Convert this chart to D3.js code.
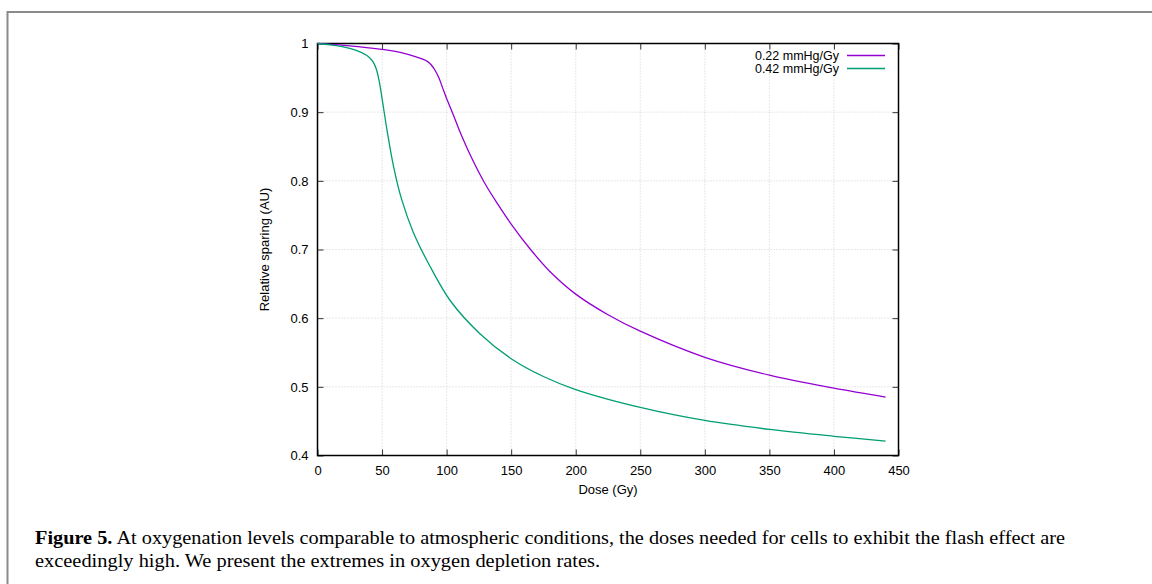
<!DOCTYPE html>
<html>
<head>
<meta charset="utf-8">
<script src="https://cdn.jsdelivr.net/npm/d3@7"></script>
<style>
  body { margin: 0; background: #fff; }
  svg { display: block; }
</style>
</head>
<body>
<div id="chart"></div>
<script>
// tick labels
var xTicks = [0, 50, 100, 150, 200, 250, 300, 350, 400, 450];
var yTicks = [0.4, 0.5, 0.6, 0.7, 0.8, 0.9, 1];

// 0.22 mmHg/Gy (purple)
var doseA = [0, 12, 25, 38, 50, 64, 77, 85, 88, 91, 94, 97, 100, 105, 110, 120, 130, 140, 150, 165, 180, 200, 225, 250, 300, 350, 400, 440];
var sparA = [1.0, 0.9985, 0.9966, 0.994, 0.9915, 0.987, 0.980, 0.974, 0.969, 0.961, 0.950, 0.935, 0.920, 0.897, 0.873, 0.831, 0.795, 0.765, 0.737, 0.700, 0.668, 0.635, 0.605, 0.581, 0.543, 0.517, 0.498, 0.485];

// 0.42 mmHg/Gy (green)
var doseB = [0, 10, 20, 30, 38, 42, 44, 46, 48, 50, 54, 59, 65, 74, 87, 103, 126, 150, 175, 200, 250, 300, 350, 400, 440];
var sparB = [1.0, 0.998, 0.995, 0.990, 0.983, 0.976, 0.970, 0.960, 0.943, 0.920, 0.872, 0.820, 0.774, 0.726, 0.676, 0.625, 0.577, 0.541, 0.515, 0.496, 0.470, 0.451, 0.438, 0.428, 0.421];

var seriesNames = ["0.22 mmHg/Gy", "0.42 mmHg/Gy"];
var seriesColors = ["#9400d3", "#009e73"];

var W = 1152, H = 584;
var plotL = 317.5, plotR = 898.5, plotT = 43.5, plotB = 455.5;

var svg = d3.select("#chart").append("svg").attr("width", W).attr("height", H);

// figure frame
svg.append("rect")
    .attr("x", 7.5).attr("y", 12)
    .attr("width", W + 10).attr("height", H + 10)
    .attr("fill", "none")
    .attr("stroke", "#8a8a8a")
    .attr("stroke-width", 2);

var x = d3.scaleLinear().domain([0, 450]).range([plotL, plotR]);
var y = d3.scaleLinear().domain([0.4, 1]).range([plotB, plotT]);

// grid
svg.append("g").selectAll("line").data(xTicks.slice(1, -1)).enter().append("line")
    .attr("x1", d => x(d)).attr("x2", d => x(d))
    .attr("y1", plotT).attr("y2", plotB)
    .attr("stroke", "#d0d0d0").attr("stroke-width", 1)
    .attr("stroke-dasharray", "1,2");
svg.append("g").selectAll("line").data(yTicks.slice(1, -1)).enter().append("line")
    .attr("x1", plotL).attr("x2", plotR)
    .attr("y1", d => y(d)).attr("y2", d => y(d))
    .attr("stroke", "#d0d0d0").attr("stroke-width", 1)
    .attr("stroke-dasharray", "1,2");

// axes (ticks inward, mirrored)
var font = "'Liberation Sans', Arial, sans-serif";
var gx = svg.append("g").attr("transform", "translate(0," + plotB + ")")
    .call(d3.axisBottom(x).tickValues(xTicks).tickSize(-6).tickPadding(10).tickFormat(d3.format("d")));
var gxTop = svg.append("g").attr("transform", "translate(0," + plotT + ")")
    .call(d3.axisTop(x).tickValues(xTicks).tickSize(-6).tickFormat(""));
var gy = svg.append("g").attr("transform", "translate(" + plotL + ",0)")
    .call(d3.axisLeft(y).tickValues(yTicks).tickSize(-6).tickPadding(9).tickFormat(d => d === 1 ? "1" : d3.format(".1f")(d)));
var gyR = svg.append("g").attr("transform", "translate(" + plotR + ",0)")
    .call(d3.axisRight(y).tickValues(yTicks).tickSize(-6).tickFormat(""));

[gx, gxTop, gy, gyR].forEach(function (g) {
    g.select(".domain").remove();
    g.selectAll(".tick line").attr("stroke", "#333").attr("stroke-width", 1);
    g.selectAll("text").attr("font-family", font).attr("font-size", 13).attr("fill", "#000");
});

// border
svg.append("rect")
    .attr("x", plotL).attr("y", plotT)
    .attr("width", plotR - plotL).attr("height", plotB - plotT)
    .attr("fill", "none").attr("stroke", "#000").attr("stroke-width", 1.5);

// curves
var line = d3.line().x(d => x(d[0])).y(d => y(d[1])).curve(d3.curveCatmullRom.alpha(0.5));
var seriesData = [d3.zip(doseA, sparA), d3.zip(doseB, sparB)];
seriesData.forEach(function (pts, i) {
    svg.append("path").datum(pts)
        .attr("d", line)
        .attr("fill", "none")
        .attr("stroke", seriesColors[i])
        .attr("stroke-width", 1.3);
});

// legend
seriesNames.forEach(function (name, i) {
    var ly = 55.5 + i * 13;
    svg.append("text")
        .attr("x", 839).attr("y", ly + 4.5)
        .attr("text-anchor", "end")
        .attr("font-family", font).attr("font-size", 12.5)
        .text(name);
    svg.append("line")
        .attr("x1", 847).attr("x2", 885)
        .attr("y1", ly).attr("y2", ly)
        .attr("stroke", seriesColors[i]).attr("stroke-width", 1.3);
});

// axis labels
svg.append("text")
    .attr("x", (plotL + plotR) / 2).attr("y", 494)
    .attr("text-anchor", "middle")
    .attr("font-family", font).attr("font-size", 13)
    .text("Dose (Gy)");
svg.append("text")
    .attr("transform", "translate(269," + ((plotT + plotB) / 2) + ") rotate(-90)")
    .attr("text-anchor", "middle")
    .attr("font-family", font).attr("font-size", 13)
    .text("Relative sparing (AU)");

// caption
var serif = "'Liberation Serif', 'DejaVu Serif', serif";
var cap1 = svg.append("text").attr("x", 35).attr("y", 544)
    .attr("font-family", serif).attr("font-size", 18)
    .attr("textLength", 1030).attr("lengthAdjust", "spacingAndGlyphs");
cap1.append("tspan").attr("font-weight", "bold").text("Figure 5.");
cap1.append("tspan").text(" At oxygenation levels comparable to atmospheric conditions, the doses needed for cells to exhibit the flash effect are");
svg.append("text").attr("x", 35).attr("y", 567)
    .attr("font-family", serif).attr("font-size", 18)
    .attr("textLength", 565).attr("lengthAdjust", "spacingAndGlyphs")
    .text("exceedingly high. We present the extremes in oxygen depletion rates.");
</script>
</body>
</html>
